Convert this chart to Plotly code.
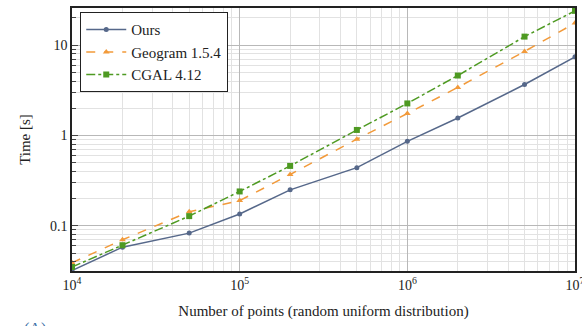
import plotly.graph_objects as go

npoints = [1e4, 2e4, 5e4, 1e5, 2e5, 5e5, 1e6, 2e6, 5e6, 1e7]
ours = [0.032, 0.058, 0.083, 0.135, 0.25, 0.44, 0.86, 1.56, 3.66, 7.4]
geogram = [0.039, 0.07, 0.143, 0.19, 0.37, 0.91, 1.75, 3.4, 8.5, 17.5]
cgal = [0.035, 0.061, 0.128, 0.24, 0.46, 1.15, 2.26, 4.6, 12.4, 23.9]

x_tickvals = [1e4, 1e5, 1e6, 1e7]
x_ticktext = ["10<sup>4</sup>", "10<sup>5</sup>", "10<sup>6</sup>", "10<sup>7</sup>"]
y_tickvals = [0.1, 1, 10]
y_ticktext = ["0.1", "1", "10"]

font = "Liberation Serif"

fig = go.Figure()
fig.add_trace(go.Scatter(x=npoints, y=ours, name="Ours", mode="lines+markers",
                         line=dict(color="#56688a", width=1.5),
                         marker=dict(symbol="circle", size=5, color="#56688a")))
fig.add_trace(go.Scatter(x=npoints, y=geogram, name="Geogram 1.5.4", mode="lines+markers",
                         line=dict(color="#f29a3a", width=1.5, dash="dash"),
                         marker=dict(symbol="triangle-up", size=6, color="#f29a3a")))
fig.add_trace(go.Scatter(x=npoints, y=cgal, name="CGAL 4.12", mode="lines+markers",
                         line=dict(color="#4e9a22", width=1.5, dash="dashdot"),
                         marker=dict(symbol="square", size=6, color="#4e9a22")))

fig.update_layout(
    width=582, height=326,
    margin=dict(l=72, r=7, t=8, b=55, autoexpand=False),
    paper_bgcolor="white", plot_bgcolor="white",
    font=dict(family=font, size=14, color="#222"),
    showlegend=True,
    legend=dict(x=0.016, y=0.985, xanchor="left", yanchor="top",
                bgcolor="white", bordercolor="#222", borderwidth=1.2,
                font=dict(family=font, size=15, color="#222"), tracegroupgap=2,
                itemwidth=40),
)
fig.update_xaxes(type="log", range=[4, 7], automargin=False,
                 tickvals=x_tickvals, ticktext=x_ticktext,
                 ticklabeloverflow="allow",
                 showgrid=True, gridcolor="#b8b8b8", gridwidth=1,
                 minor=dict(dtick="D1", showgrid=True, gridcolor="#e2e2e2", gridwidth=1, ticks=""),
                 showline=True, linecolor="#222", linewidth=1.5, mirror=True,
                 ticks="", tickfont=dict(family=font, size=14),
                 title=dict(text="Number of points (random uniform distribution)",
                            font=dict(family=font, size=15), standoff=14),
                 zeroline=False)
fig.update_yaxes(type="log", range=[-1.5, 1.41], automargin=False,
                 tickvals=y_tickvals, ticktext=y_ticktext,
                 showgrid=True, gridcolor="#b8b8b8", gridwidth=1,
                 minor=dict(dtick="D1", showgrid=True, gridcolor="#e2e2e2", gridwidth=1,
                            ticks="inside", ticklen=4, tickcolor="#444"),
                 showline=True, linecolor="#222", linewidth=1.5, mirror=True,
                 ticks="inside", ticklen=6, tickcolor="#444",
                 tickfont=dict(family=font, size=14),
                 title=dict(text="Time [s]", font=dict(family=font, size=15), standoff=16),
                 zeroline=False)

fig.add_annotation(text="(A)", xref="paper", yref="paper", x=-0.1, y=-0.18,
                   xanchor="left", yanchor="top", showarrow=False,
                   font=dict(family=font, size=16, color="#3a6ea5"))

fig.write_html("out.html")
